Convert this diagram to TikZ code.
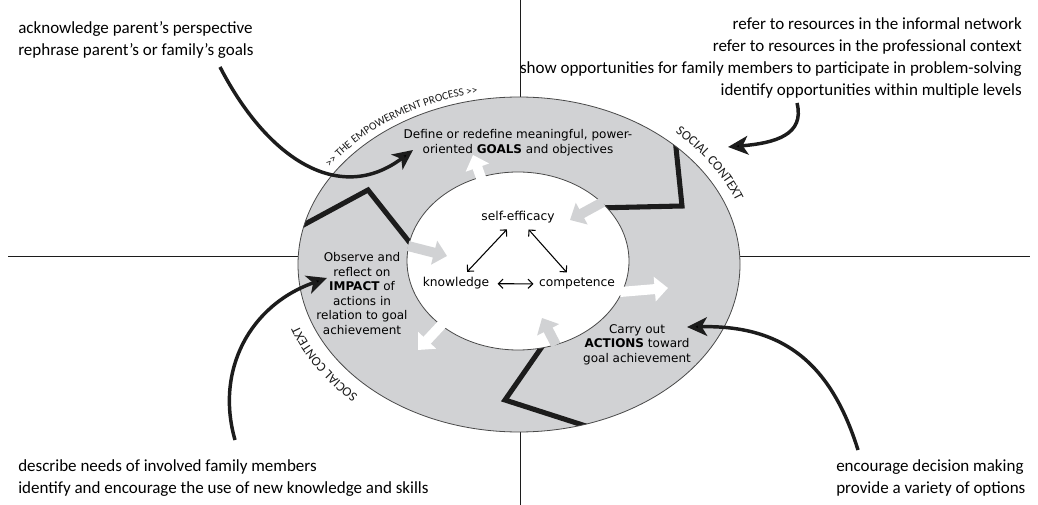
\documentclass[tikz,border=0pt]{standalone}
\usepackage{fontspec}
\setmainfont{Carlito}
\newfontfamily\ringfont{DejaVu Sans}
\usetikzlibrary{arrows.meta}
\usetikzlibrary{shapes.geometric}
\usetikzlibrary{decorations.text}
\usetikzlibrary{calc}

\definecolor{ringgray}{RGB}{209,210,212}
\definecolor{ink}{RGB}{28,28,28}

\begin{document}
\begin{tikzpicture}[x=0.75pt,y=0.75pt,>/.tip={Straight Barb[length=3.5pt,width=7pt]},
	hint/.style={font=\fontsize{12.75}{16.5}\selectfont,inner sep=0pt},
	stage/.style={font=\ringfont\fontsize{9}{10.9}\selectfont,align=center,inner sep=0pt},
	belief/.style={font=\ringfont\fontsize{9.2}{11}\selectfont,inner sep=2pt},
	pointer/.style={draw=ink,line width=2.6pt,-{Stealth[length=15pt,width=14pt,inset=4pt]}},
	boundary/.style={draw=ink,line width=3.8pt},
	push/.style={line width=7.5pt,-{Triangle[length=10pt,width=18pt]}},
	axis/.style={draw=ink,line width=0.7pt},
	rim/.style={draw=ink!80,line width=0.6pt},
	arctext/.style={decorate,decoration={text along path,text align=center,text color=ink}}]
	\useasboundingbox (0,0) rectangle (1038,-505);

	\draw[axis] (520,0) -- (520,-97);
	\draw[axis] (520,-432) -- (520,-505);
	\draw[axis] (8,-256) -- (298,-256);
	\draw[axis] (740,-256) -- (1030,-256);

	\node (ring) [ellipse,fill=ringgray,inner sep=0pt,outer sep=0pt,minimum width=331.5pt,minimum height=251.25pt] at (519,-264.5) {};
	\begin{scope}
		\clip (519,-264.5) ellipse [x radius=221,y radius=167.5];
		\draw[boundary] (296,-229) -- (368,-190) -- (418,-253);
		\draw[boundary] (675,-138) -- (682,-206) -- (595,-208);
		\draw[boundary] (546,-341) -- (505,-400) -- (592,-428);
	\end{scope}
	\node (core) [ellipse,fill=white,rim,inner sep=0pt,outer sep=0pt,minimum width=166.5pt,minimum height=133.5pt] at (518,-261) {};
	\draw[rim] (ring.center) ellipse [x radius=221,y radius=167.5];

	\draw[push,white] (486,-192) -- (473,-155);
	\draw[push,ringgray] (603,-202) -- (570,-220);
	\draw[push,ringgray] (408,-246) -- (447,-256);
	\draw[push,white] (620,-292) -- (668,-288);
	\draw[push,ringgray] (556,-345) -- (542,-318);
	\draw[push,white] (446,-320) -- (418,-350);

	\node (efficacy) [belief,anchor=base] at (518,-221) {self-efficacy};
	\node (knowledge) [belief,anchor=base] at (456,-287) {knowledge};
	\node (competence) [belief,anchor=base] at (577,-287) {competence};
	\draw[<->,line width=0.8pt,shorten <=3pt,shorten >=3pt] (efficacy) -- (knowledge);
	\draw[<->,line width=0.8pt,shorten <=3pt,shorten >=3pt] (efficacy) -- (competence);
	\draw[<->,line width=0.8pt,shorten <=4pt,shorten >=2pt] (knowledge) -- (competence);

	\node (goals) [stage] at (518,-142.5) {Define or redefine meaningful, power-\\oriented \textbf{GOALS} and objectives};
	\node (impact) [stage] at (362,-293.7) {Observe and\\reflect on\\\textbf{IMPACT} of\\actions in\\relation to goal\\achievement};
	\node (actions) [stage] at (637,-344.5) {Carry out\\\textbf{ACTIONS} toward\\goal achievement};

	\path[arctext,decoration={text={|\fontsize{8.4}{10}\selectfont|>> THE EMPOWERMENT PROCESS >>}}] ($(ring.center)+(155:228 and 174)$) arc [start angle=155,end angle=93,x radius=228,y radius=174];
	\path[arctext,decoration={text={|\fontsize{10}{12}\selectfont|SOCIAL CONTEXT}}] ($(ring.center)+(50:232 and 178)$) arc [start angle=50,end angle=18,x radius=232,y radius=178];
	\path[arctext,decoration={text={|\fontsize{10}{12}\selectfont|SOCIAL CONTEXT}}] ($(ring.center)+(229:234 and 180)$) arc [start angle=229,end angle=197,x radius=234,y radius=180];

	\node (reframe) [hint,anchor=west,align=left] at (18,-40) {acknowledge parent's perspective\\rephrase parent's or family's goals};
	\node (resources) [hint,anchor=east,align=right] at (1022,-58) {refer to resources in the informal network\\refer to resources in the professional context\\show opportunities for family members to participate in problem-solving\\identify opportunities within multiple levels};
	\node (needs) [hint,anchor=west,align=left] at (18,-478) {describe needs of involved family members\\identify and encourage the use of new knowledge and skills};
	\node (decide) [hint,anchor=west,align=left] at (836,-478) {encourage decision making\\provide a variety of options};

	\coordinate (fromreframe) at (220,-67);
	\coordinate (togoals) at (413,-150);
	\draw[pointer] (fromreframe) .. controls (268,-160) and (340,-205) .. (togoals);
	\coordinate (fromresources) at (797,-103);
	\coordinate (tocontext) at (728,-147);
	\draw[pointer] (fromresources) .. controls (805,-135) and (775,-143) .. (tocontext);
	\coordinate (fromneeds) at (235,-440);
	\coordinate (toimpact) at (327,-278);
	\draw[pointer] (fromneeds) .. controls (215,-370) and (250,-305) .. (toimpact);
	\coordinate (fromdecide) at (858,-450);
	\coordinate (toactions) at (687,-327);
	\draw[pointer] (fromdecide) .. controls (830,-360) and (780,-325) .. (toactions);
\end{tikzpicture}
\end{document}
